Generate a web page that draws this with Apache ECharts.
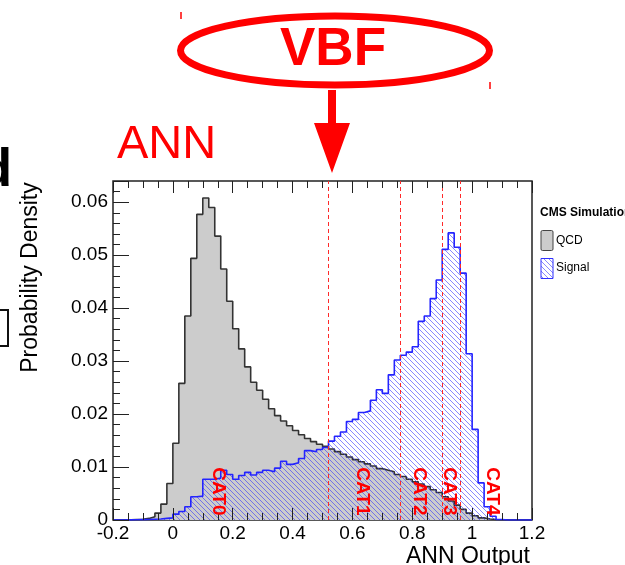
<!DOCTYPE html>
<html><head><meta charset="utf-8">
<script src="https://cdn.jsdelivr.net/npm/echarts@6/dist/echarts.min.js"></script>
<style>html,body{margin:0;padding:0;background:#fff}#c{width:625px;height:565px}</style>
</head><body><div id="c"></div>
<script>
// ---- data ----
const binEdges = [-0.20,-0.18,-0.16,-0.14,-0.12,-0.10,-0.08,-0.06,-0.04,-0.02,
  0.00,0.02,0.04,0.06,0.08,0.10,0.12,0.14,0.16,0.18,
  0.20,0.22,0.24,0.26,0.28,0.30,0.32,0.34,0.36,0.38,
  0.40,0.42,0.44,0.46,0.48,0.50,0.52,0.54,0.56,0.58,
  0.60,0.62,0.64,0.66,0.68,0.70,0.72,0.74,0.76,0.78,
  0.80,0.82,0.84,0.86,0.88,0.90,0.92,0.94,0.96,0.98,
  1.00,1.02,1.04,1.06,1.08,1.10,1.12,1.14,1.16,1.18,1.20];
const qcd = [0,0.00003,0.00005,0.0001,0.00015,0.0003,0.0006,0.0013,0.0030,0.0069,
  0.0145,0.0258,0.0385,0.0494,0.0577,0.0608,0.0590,0.0536,0.0474,0.0413,
  0.0361,0.0323,0.0289,0.0260,0.0245,0.0228,0.0210,0.0197,0.0187,0.0178,
  0.0169,0.0161,0.0154,0.0148,0.0143,0.0139,0.0134,0.0129,0.0124,0.0119,
  0.0114,0.0110,0.0106,0.0102,0.0097,0.0094,0.0091,0.0086,0.0082,0.0077,
  0.0072,0.0068,0.0063,0.0057,0.0052,0.0044,0.0036,0.0028,0.0020,0.0013,
  0.0008,0.0004,0.0002,0.0001,0.00005,0,0,0,0,0];
const signal = [0,0,0.00003,0.00005,0.00008,0.0001,0.00015,0.0002,0.0003,0.0004,
  0.0011,0.0016,0.0025,0.0044,0.0045,0.0077,0.0077,0.0079,0.0094,0.0086,
  0.0077,0.0084,0.0090,0.0085,0.0090,0.0094,0.0091,0.0098,0.0111,0.0105,
  0.0108,0.0116,0.0131,0.0129,0.0133,0.0137,0.0149,0.0158,0.0166,0.0186,
  0.0190,0.0203,0.0206,0.0226,0.0246,0.0239,0.0274,0.0302,0.0311,0.0317,
  0.0327,0.0375,0.0385,0.0418,0.0453,0.0511,0.0542,0.0515,0.0466,0.0314,
  0.0171,0.0070,0.0025,0.0007,0.0001,0,0,0,0,0];
const cuts = [0.517, 0.757, 0.898, 0.957];
const catNames = ['CAT0','CAT1','CAT2','CAT3','CAT4'];
const catCenters = [0.153, 0.633, 0.824, 0.924, 1.067];
const catLabelY = 0.0054;

function hist(vals){
  const d = vals.map((v,i)=>[binEdges[i], v]);
  d.push([binEdges[vals.length], vals[vals.length-1]]);
  return d;
}

// hatch tile
const tile = document.createElement('canvas');
tile.width = 5; tile.height = 5;
const g = tile.getContext('2d');
g.strokeStyle = 'rgba(40,40,255,0.55)'; g.lineWidth = 1;
g.beginPath();
g.moveTo(-1,-1); g.lineTo(6,6);
g.moveTo(-1,4); g.lineTo(1,6);
g.moveTo(4,-1); g.lineTo(6,1);
g.stroke();
const hatch = {image: tile, repeat: 'repeat'};

const FONT = '"Liberation Sans", Arial, Helvetica, sans-serif';
const tickStyle = {color:'#222', width:1};
const noLine = {show:false, onZero:false};

const chart = echarts.init(document.getElementById('c'), null, {renderer:'canvas'});
chart.setOption({
  animation:false,
  backgroundColor:'#fff',
  grid:{left:113, right:93, top:181, bottom:45, show:true, borderColor:'#222', borderWidth:1.5,
        backgroundColor:'transparent', containLabel:false, outerBoundsMode:'none'},
  xAxis:[
    {type:'value', min:-0.2, max:1.2, interval:0.2, position:'bottom', z:5,
     axisLine:noLine, splitLine:{show:false},
     axisTick:{show:true, inside:true, length:12, lineStyle:tickStyle},
     minorTick:{show:true, splitNumber:4, length:7, lineStyle:tickStyle},
     axisLabel:{show:true, fontSize:19, color:'#000', margin:4, fontFamily:FONT}},
    {type:'value', min:-0.2, max:1.2, interval:0.2, position:'top', z:5,
     axisLine:noLine, splitLine:{show:false},
     axisTick:{show:true, inside:true, length:12, lineStyle:tickStyle},
     minorTick:{show:true, splitNumber:4, length:7, lineStyle:tickStyle},
     axisLabel:{show:false}}
  ],
  yAxis:[
    {type:'value', min:0, max:0.064, interval:0.01, position:'left', z:5,
     axisLine:noLine, splitLine:{show:false},
     axisTick:{show:true, inside:true, length:16, lineStyle:tickStyle},
     axisLabel:{show:true, fontSize:19, color:'#000', margin:5, fontFamily:FONT,
       formatter:function(v){
         const r = v/0.01;
         if (Math.abs(r - Math.round(r)) > 1e-6) return '';
         return String(+v.toFixed(4));
       }}},
    {type:'value', min:0, max:0.064, interval:0.002, position:'left', z:5,
     axisLine:noLine, splitLine:{show:false},
     axisTick:{show:true, inside:true, length:7, lineStyle:tickStyle},
     axisLabel:{show:false}}
  ],
  series:[
    {type:'line', name:'QCD', data:hist(qcd), step:'end', symbol:'none', silent:true, z:2,
     lineStyle:{color:'#333', width:1.6}, areaStyle:{color:'#cccccc', opacity:1}},
    {type:'line', name:'Signal', data:hist(signal), step:'end', symbol:'none', silent:true, z:3,
     lineStyle:{color:'#2424ff', width:1.6}, areaStyle:{color:hatch, opacity:1},
     markLine:{silent:true, symbol:['none','none'], label:{show:false},
       lineStyle:{color:'#ff2a2a', width:1, type:[4,3]},
       data:cuts.map(c=>({xAxis:c}))},
     markPoint:{silent:true, symbol:'rect', symbolSize:0,
       label:{show:true, position:'inside', rotate:-90, formatter:'{b}', color:'#ff0000',
              fontWeight:'bold', fontSize:19, fontFamily:FONT},
       data:catNames.map((n,i)=>({name:n, coord:[catCenters[i], catLabelY]}))}}
  ],
  graphic:[
    {type:'ellipse', shape:{cx:335, cy:50.5, rx:154.5, ry:34.5}, style:{fill:'none', stroke:'#ff0000', lineWidth:7}},
    {type:'text', x:333, y:50, style:{text:'VBF', font:'bold 53px '+FONT, fill:'#ff0000', align:'center', verticalAlign:'middle'}},
    {type:'polygon', shape:{points:[[328,90],[336,90],[336,123],[350,123],[332,173],[314,123],[328,123]]}, style:{fill:'#ff0000'}},
    {type:'line', shape:{x1:181, y1:12, x2:181, y2:19}, style:{stroke:'#ff0000', lineWidth:1.5}},
    {type:'line', shape:{x1:490, y1:82, x2:490, y2:89}, style:{stroke:'#ff0000', lineWidth:1.5}},
    {type:'text', x:117, y:145.5, style:{text:'ANN', font:'47px '+FONT, fill:'#ff0000', align:'left', verticalAlign:'middle'}},
    {type:'text', x:12, y:171, style:{text:'d', font:'bold 53px '+FONT, fill:'#000', align:'right', verticalAlign:'middle'}},
    {type:'polyline', shape:{points:[[0,310],[8,310],[8,346],[0,346]]}, style:{fill:'none', stroke:'#111', lineWidth:2}},
    {type:'text', x:31, y:277.5, rotation:Math.PI/2, style:{text:'Probability Density', font:'23px '+FONT, fill:'#000', align:'center', verticalAlign:'middle'}},
    {type:'text', x:530, y:556.5, style:{text:'ANN Output', font:'23px '+FONT, fill:'#000', align:'right', verticalAlign:'middle'}},
    {type:'text', x:540, y:212.5, style:{text:'CMS Simulation', font:'bold 12px '+FONT, fill:'#000', align:'left', verticalAlign:'middle'}},
    {type:'rect', shape:{x:541, y:230.5, width:12, height:20, r:1.5}, style:{fill:'#cccccc', stroke:'#444', lineWidth:1}},
    {type:'text', x:556, y:240.5, style:{text:'QCD', font:'12px '+FONT, fill:'#000', align:'left', verticalAlign:'middle'}},
    {type:'rect', shape:{x:541, y:258.5, width:12, height:20}, style:{fill:hatch, stroke:'#3030ff', lineWidth:1}},
    {type:'text', x:556, y:268, style:{text:'Signal', font:'12px '+FONT, fill:'#000', align:'left', verticalAlign:'middle'}}
  ]
});
</script></body></html>
